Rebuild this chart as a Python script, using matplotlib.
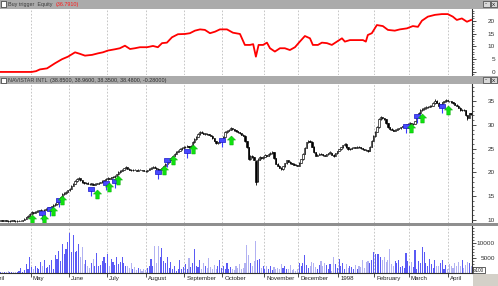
import matplotlib
matplotlib.use("Agg")
import matplotlib.pyplot as plt
import numpy as np
import pandas as pd
from matplotlib.patches import Rectangle
from matplotlib.path import Path
from matplotlib.transforms import blended_transform_factory
from matplotlib.ticker import FixedLocator, MultipleLocator

plt.rcParams['font.family'] = ['Liberation Sans', 'DejaVu Sans']

# ---------------- data ----------------
open_ = [9.8, 9.9, 9.8, 9.9, 9.8, 9.7, 9.8, 9.9, 9.8, 9.7,
         9.8, 9.8, 9.8, 10.0, 10.3, 10.6, 10.9, 11.3, 11.6, 11.5,
         11.7, 11.9, 12.0, 12.1, 12.0, 12.2, 12.4, 12.5, 12.7, 12.9,
         13.1, 13.3, 13.7, 14.2, 14.8, 15.5, 15.7, 15.9, 16.2, 16.6,
         17.2, 17.6, 18.1, 18.6, 18.8, 18.3, 17.9, 17.7, 17.8, 17.6,
         17.5, 17.6, 17.4, 17.6, 17.6, 17.8, 17.9, 18.2, 18.4,
         18.6, 18.8, 18.7, 19.0, 19.0, 19.3, 19.6, 20.0, 20.3, 20.6,
         20.9, 21.1, 20.8, 20.6, 20.4, 20.6, 20.5, 20.3, 20.6, 20.5,
         20.4, 20.3, 20.2, 20.5, 20.8, 21.0, 21.2, 21.0, 20.8, 20.6,
         20.7, 21.0, 21.4, 21.8, 22.1, 22.6, 23.1, 23.5, 23.9, 24.3,
         24.6, 24.9, 25.1, 25.3, 25.4, 25.5, 25.3, 25.6, 26.3, 27.0,
         27.5, 28.0, 28.4, 28.3, 28.1, 28.1, 28.0, 27.8, 27.7,
         27.2, 26.6, 26.1, 26.3, 26.5, 26.7, 27.5, 28.4, 28.8, 29.0,
         29.3, 29.1, 28.9, 28.6, 28.4, 28.2, 27.9, 27.7, 26.5, 25.3,
         22.8, 23.5, 23.2, 22.4, 18.2, 22.6, 23.2, 23.0, 23.3, 23.6,
         23.5, 23.8, 24.0, 24.2, 23.0, 21.8, 21.4, 21.0, 20.7, 21.3,
         21.9, 22.5, 22.2, 21.9, 21.8, 21.6, 21.5, 21.4, 22.0, 22.8,
         23.9, 25.2, 26.3, 26.7, 26.4, 25.4, 24.2, 23.5, 23.7, 23.9,
         23.8, 23.6, 23.5, 23.8, 24.0, 24.0, 23.7, 23.5, 24.0,
         24.5, 24.9, 25.3, 25.7, 26.0, 25.3, 24.9, 25.0, 25.2, 25.3,
         25.2, 25.4, 25.3, 25.1, 24.9, 24.8, 24.7, 24.6, 25.4, 26.7,
         27.6, 28.5, 29.5, 31.2, 31.6, 31.4, 31.2, 30.3, 29.5, 29.2,
         29.0, 28.8, 29.0, 29.2, 29.3, 29.6, 29.7, 29.8, 30.0,
         30.2, 30.3, 30.1, 30.2, 30.8, 31.6, 32.4, 33.1, 33.3, 33.5,
         33.7, 33.8, 33.9, 34.0, 34.5, 35.1, 34.6, 34.0, 34.3, 34.7,
         34.9, 35.2, 35.0, 34.9, 34.7, 34.5, 34.2, 34.0, 33.6, 33.1,
         33.2, 33.1, 32.0, 31.5, 32.4]
high = [10.0, 10.0, 10.0, 10.0, 9.9, 9.9, 10.0, 10.0, 9.9, 9.9,
        9.9, 9.9, 10.1, 10.4, 10.7, 11.0, 11.4, 11.8, 11.7, 11.8,
        12.0, 12.1, 12.3, 12.2, 12.3, 12.5, 12.7, 12.8, 13.0, 13.3,
        13.5, 13.9, 14.4, 15.0, 15.7, 15.9, 16.1, 16.4, 16.8, 17.4,
        17.8, 18.3, 18.8, 19.0, 18.9, 18.4, 18.0, 17.9, 17.9, 17.7,
        17.8, 17.7, 17.7, 17.7, 17.9, 18.0, 18.3, 18.5, 18.8,
        19.0, 18.9, 19.1, 19.2, 19.4, 19.7, 20.2, 20.4, 20.8, 21.0,
        21.3, 21.2, 20.9, 20.7, 20.7, 20.7, 20.6, 20.7, 20.7, 20.6,
        20.5, 20.4, 20.6, 20.9, 21.1, 21.4, 21.3, 21.1, 20.9, 20.8,
        21.1, 21.5, 22.0, 22.3, 22.8, 23.3, 23.7, 24.1, 24.5, 24.8,
        25.1, 25.3, 25.5, 25.6, 25.7, 25.6, 25.8, 26.5, 27.2, 27.7,
        28.2, 28.6, 28.6, 28.4, 28.3, 28.2, 28.1, 27.9, 27.8,
        27.3, 26.7, 26.4, 26.6, 26.8, 27.6, 28.6, 29.0, 29.2, 29.5,
        29.4, 29.2, 29.0, 28.7, 28.5, 28.3, 28.0, 27.8, 26.6, 25.4,
        23.7, 23.6, 23.3, 22.6, 23.0, 23.4, 23.3, 23.5, 23.8, 23.7,
        24.0, 24.2, 24.4, 24.3, 23.1, 21.9, 21.5, 21.1, 21.4, 22.0,
        22.7, 22.6, 22.3, 22.0, 21.9, 21.7, 21.6, 22.1, 22.9, 24.0,
        25.3, 26.4, 26.9, 26.8, 26.5, 25.5, 24.3, 23.8, 24.0, 24.0,
        23.9, 23.7, 23.9, 24.1, 24.4, 24.1, 23.8, 24.1, 24.6,
        25.0, 25.4, 25.8, 26.2, 26.1, 25.4, 25.1, 25.3, 25.4, 25.4,
        25.5, 25.5, 25.4, 25.2, 25.0, 24.9, 24.8, 25.5, 26.8, 27.8,
        28.7, 29.7, 31.4, 31.9, 31.7, 31.5, 31.3, 30.4, 29.6, 29.3,
        29.1, 29.1, 29.3, 29.4, 29.6, 29.8, 30.0, 30.2, 30.4,
        30.6, 30.4, 30.4, 30.9, 31.8, 32.6, 33.3, 33.5, 33.7, 33.9,
        34.0, 34.1, 34.2, 34.7, 35.4, 35.2, 34.7, 34.4, 34.8, 35.0,
        35.4, 35.3, 35.1, 35.0, 34.8, 34.6, 34.3, 34.1, 33.7, 33.3,
        33.3, 33.2, 32.1, 32.5, 32.5]
low = [9.7, 9.7, 9.7, 9.7, 9.6, 9.6, 9.7, 9.7, 9.6, 9.6,
       9.7, 9.7, 9.7, 9.9, 10.2, 10.5, 10.8, 11.2, 11.3, 11.4,
       11.6, 11.8, 11.9, 11.8, 11.9, 12.1, 12.3, 12.4, 12.6, 12.8,
       13.0, 13.2, 13.6, 14.1, 14.7, 15.3, 15.5, 15.8, 16.1, 16.5,
       17.1, 17.5, 18.0, 18.5, 18.2, 17.8, 17.6, 17.6, 17.5, 17.4,
       17.4, 17.3, 17.3, 17.5, 17.5, 17.7, 17.8, 18.1, 18.3,
       18.5, 18.6, 18.6, 18.9, 18.9, 19.2, 19.5, 19.9, 20.2, 20.5,
       20.8, 20.7, 20.5, 20.3, 20.3, 20.4, 20.2, 20.2, 20.4, 20.3,
       20.2, 20.1, 20.1, 20.4, 20.7, 20.9, 20.9, 20.7, 20.5, 20.5,
       20.6, 20.9, 21.3, 21.7, 22.0, 22.5, 23.0, 23.4, 23.8, 24.2,
       24.5, 24.8, 25.0, 25.2, 25.3, 25.2, 25.2, 25.5, 26.2, 26.9,
       27.4, 27.9, 28.2, 28.0, 27.9, 27.9, 27.8, 27.6, 27.1,
       26.5, 26.0, 26.0, 26.2, 26.4, 26.6, 27.4, 28.3, 28.7, 28.9,
       29.0, 28.8, 28.5, 28.3, 28.1, 27.8, 27.6, 26.4, 25.1, 22.5,
       22.6, 23.1, 22.5, 17.4, 18.0, 22.5, 22.9, 22.9, 23.2, 23.4,
       23.4, 23.7, 23.9, 22.9, 21.7, 21.3, 20.9, 20.5, 20.6, 21.2,
       21.8, 22.1, 21.8, 21.7, 21.5, 21.4, 21.3, 21.3, 21.9, 22.7,
       23.8, 25.1, 26.2, 26.3, 25.3, 24.1, 23.4, 23.4, 23.6, 23.7,
       23.5, 23.4, 23.4, 23.7, 23.9, 23.6, 23.3, 23.4, 23.9,
       24.4, 24.8, 25.2, 25.6, 25.2, 24.7, 24.8, 24.9, 25.1, 25.1,
       25.1, 25.2, 25.0, 24.8, 24.7, 24.6, 24.3, 24.5, 25.3, 26.6,
       27.5, 28.4, 29.4, 31.0, 31.2, 31.1, 30.2, 29.4, 29.0, 28.9,
       28.6, 28.7, 28.9, 29.1, 29.2, 29.5, 29.6, 29.7, 29.4,
       30.0, 29.9, 29.9, 30.1, 30.7, 31.5, 32.3, 33.0, 33.2, 33.4,
       33.6, 33.7, 33.8, 33.9, 34.4, 34.5, 33.8, 33.9, 34.2, 34.6,
       34.8, 34.9, 34.8, 34.6, 34.4, 34.1, 33.9, 33.5, 33.0, 33.0,
       33.0, 31.9, 31.0, 31.4, 32.1]
close = [9.9, 9.8, 9.9, 9.8, 9.7, 9.8, 9.9, 9.8, 9.7, 9.8,
         9.8, 9.8, 10.0, 10.3, 10.6, 10.9, 11.3, 11.6, 11.5, 11.7,
         11.9, 12.0, 12.1, 12.0, 12.2, 12.4, 12.5, 12.7, 12.9, 13.1,
         13.3, 13.7, 14.2, 14.8, 15.5, 15.7, 15.9, 16.2, 16.6, 17.2,
         17.6, 18.1, 18.6, 18.8, 18.3, 17.9, 17.7, 17.8, 17.6, 17.5,
         17.7, 17.4, 17.6, 17.6, 17.8, 17.9, 18.2, 18.4, 18.6,
         18.8, 18.7, 19.0, 19.0, 19.3, 19.6, 20.0, 20.3, 20.6, 20.9,
         21.1, 20.8, 20.6, 20.4, 20.6, 20.5, 20.3, 20.6, 20.5, 20.4,
         20.3, 20.2, 20.5, 20.8, 21.0, 21.2, 21.0, 20.8, 20.6, 20.7,
         21.0, 21.4, 21.8, 22.1, 22.6, 23.1, 23.5, 23.9, 24.3, 24.6,
         24.9, 25.1, 25.3, 25.4, 25.5, 25.3, 25.6, 26.3, 27.0, 27.5,
         28.0, 28.4, 28.3, 28.1, 28.1, 28.0, 27.9, 27.7, 27.2,
         26.6, 26.1, 26.3, 26.5, 26.7, 27.5, 28.4, 28.8, 29.0, 29.3,
         29.1, 28.9, 28.6, 28.4, 28.2, 27.9, 27.7, 26.5, 25.3, 22.8,
         23.5, 23.2, 22.6, 17.9, 22.6, 23.2, 23.0, 23.3, 23.6, 23.5,
         23.8, 24.0, 24.2, 23.0, 21.8, 21.4, 21.0, 20.7, 21.3, 21.9,
         22.5, 22.2, 21.9, 21.8, 21.6, 21.5, 21.4, 22.0, 22.8, 23.9,
         25.2, 26.3, 26.7, 26.4, 25.4, 24.2, 23.5, 23.7, 23.9, 23.8,
         23.6, 23.5, 23.8, 24.0, 24.2, 23.7, 23.5, 24.0, 24.5,
         24.9, 25.3, 25.7, 26.0, 25.3, 24.9, 25.0, 25.2, 25.3, 25.2,
         25.4, 25.3, 25.1, 24.9, 24.8, 24.7, 24.6, 25.4, 26.7, 27.6,
         28.5, 29.5, 31.2, 31.6, 31.4, 31.2, 30.3, 29.5, 29.2, 29.0,
         28.8, 29.0, 29.2, 29.3, 29.5, 29.7, 29.8, 30.0, 30.2,
         30.3, 30.1, 30.2, 30.8, 31.6, 32.4, 33.1, 33.3, 33.5, 33.7,
         33.8, 33.9, 34.0, 34.5, 35.1, 34.6, 34.0, 34.3, 34.7, 34.9,
         35.2, 35.0, 34.9, 34.7, 34.5, 34.2, 34.0, 33.6, 33.1, 33.2,
         33.1, 32.0, 31.5, 32.4, 32.3]
volume = [300, 500, 400, 300, 600, 400, 300, 500, 400, 300,
          600, 1800, 500, 900, 2900, 1200, 5300, 2000, 1500, 2400,
          1800, 1200, 3800, 2500, 4400, 1600, 2000, 2800, 4200, 1500,
          6000, 4800, 7200, 4000, 9800, 6500, 8000, 10500, 13500, 7000,
          12800, 7000, 7200, 9800, 5200, 8800, 3000, 4500, 2200, 1800,
          3500, 4800, 2200, 6800, 2500, 2800, 4000, 5200, 3300,
          6400, 2500, 4800, 3800, 2600, 5200, 3000, 3800, 5300, 3500,
          2400, 2200, 1800, 3200, 1500, 2000, 1000, 1800, 1500, 800,
          1200, 1000, 1800, 2400, 4800, 2500, 9000, 3500, 9000, 5200,
          8500, 4000, 3200, 5500, 1800, 3600, 1200, 2500, 800, 1500,
          4500, 1500, 2000, 3000, 1200, 5000, 2000, 3200, 8000, 2500,
          2000, 4500, 1500, 3500, 2200, 1800, 5000, 2000, 1500,
          2800, 1200, 2200, 4300, 1800, 2500, 1500, 3200, 1200, 2000,
          1500, 1000, 2200, 1800, 3000, 1200, 1800, 3500, 9500, 6000,
          3500, 2500, 4000, 10800, 4500, 4600, 1800, 2500, 1500, 2200,
          1200, 2500, 1000, 2000, 1500, 1800, 1200, 3000, 1800, 2200,
          1500, 1200, 2800, 1000, 1500, 800, 1200, 3500, 2500, 3200,
          6000, 2800, 1800, 2200, 3800, 3500, 2000, 1500, 2800, 4000,
          2500, 3300, 2800, 1500, 3000, 800, 5500, 3000, 1800,
          4800, 2500, 3500, 1500, 3000, 1800, 2500, 2000, 1200, 2800,
          1500, 2500, 2000, 4200, 1800, 3800, 4000, 3500, 4500, 7000,
          6500, 6200, 6500, 5200, 4500, 5200, 3800, 4500, 8000, 3000,
          2500, 4000, 3200, 4500, 2000, 2500, 1800, 6800, 4000,
          2500, 3800, 2000, 7800, 1500, 4000, 3200, 8800, 7000, 3500,
          2500, 4800, 3000, 1800, 4300, 2500, 2200, 3500, 4200, 1500,
          2800, 1500, 3000, 2200, 1800, 3500, 2500, 3800, 2500, 4500,
          1800, 2800, 3800, 3200, 2500]

# equity line (bar position, value)
eq_bar = [0, 17, 19.4, 21.6, 25.5, 29.9, 33.8, 37.1, 41, 43.7, 46.5, 50.4, 53.7, 56.4,
          59.2, 63.1, 65.8, 68.6, 71.4, 74.1, 76.9, 80.8, 84.1, 86.8, 89.1, 91.8,
          94.6, 97.9, 101.8, 104.5, 107.3, 110.1, 112.8, 115.6, 118.4, 121.1, 125,
          128.3, 132.2, 134.9, 137.7, 139.5, 141, 142.5, 145, 147.1, 148.8, 151.5,
          154.3, 157, 159.8, 162.6, 165.3, 168.1, 170.9, 172.5, 175.3, 177.5, 180.3,
          183, 185.8, 188.6, 190.2, 193, 196.8, 200.2, 201.8, 202.9, 205.1, 207.9,
          211.2, 214, 217.8, 220.6, 224.5, 227.8, 230.6, 232.8, 236.1, 240, 243.8,
          247.1, 249.9, 252.1, 254.9, 257.7, 260]
eq_val = [0.0, 0.0, 0.3, 1.0, 1.4, 3.4, 5.0, 6.0, 7.7, 7.1, 6.4, 6.7, 7.3, 7.7,
          8.4, 8.9, 9.3, 10.3, 9.0, 9.3, 9.7, 9.7, 10.2, 9.7, 11.3, 11.5,
          13.6, 14.8, 14.9, 15.2, 16.2, 16.7, 16.5, 15.2, 15.8, 16.7, 16.7,
          15.4, 14.9, 10.6, 10.6, 10.9, 6.0, 10.6, 10.6, 11.5, 9.3, 8.0,
          9.3, 9.3, 8.6, 9.7, 11.9, 14.1, 13.2, 10.6, 10.6, 11.5, 11.3,
          10.6, 11.9, 13.2, 11.9, 12.5, 12.5, 12.5, 11.9, 14.5, 15.2, 18.4,
          18.0, 16.5, 16.2, 16.7, 17.1, 18.0, 17.7, 20.1, 21.7, 22.4, 22.7,
          22.7, 21.7, 20.4, 21.0, 19.7, 20.4]

# buy signals
arrow_bar = [17, 24, 29, 34, 53, 60, 65, 90, 95, 106, 127, 227, 233, 247]
arrow_val = [10.2, 10.3, 11.9, 14.1, 15.5, 17.0, 18.4, 20.4, 22.5, 24.9, 26.9, 29.4, 31.5, 33.2]
box_bar = [23, 27, 32, 50, 58, 63, 87, 92, 103, 122, 224, 230, 244]
box_val = [11.4, 12.3, 14.2, 16.5, 17.8, 18.2, 20.1, 22.6, 24.5, 26.8, 29.7, 31.8, 33.9]

holidays = ['1997-05-26', '1997-07-04', '1997-09-01', '1997-11-27', '1997-12-25',
            '1998-01-01', '1998-01-19', '1998-02-16', '1998-04-10']
month_labels = ['April', 'May', 'June', 'July', 'August', 'September', 'October',
                'November', 'December', '1998', 'February', 'March', 'April']

eq_ticks = [0, 5, 10, 15, 20]
pr_ticks = [10, 15, 20, 25, 30, 35]
vol_ticks = [5000, 10000]

# ---------------- figure ----------------
W, H = 498, 286
fig = plt.figure(figsize=(W / 100, H / 100), dpi=100)
fig.patch.set_facecolor('white')

def fx(px):
    return px / W

def fy(py):
    return 1 - py / H

n = len(close)
x = np.arange(n)
bd = pd.bdate_range('1997-04-08', periods=300)
bd = bd[~bd.isin(pd.to_datetime(holidays))][:n]
mstart = [i for i in range(1, n) if bd[i].month != bd[i - 1].month]

ax_eq = fig.add_axes([0, fy(75), fx(472), (75 - 9) / H])
ax_pr = fig.add_axes([0, fy(223), fx(472), (223 - 84) / H])
ax_vol = fig.add_axes([0, fy(273), fx(472), (273 - 226) / H])

axis_col = '#303030'
for ax in (ax_eq, ax_pr, ax_vol):
    ax.set_facecolor('white')
    ax.set_xlim(-0.5, n - 0.5)
    for s in ('left', 'top', 'bottom'):
        ax.spines[s].set_visible(False)
    ax.spines['right'].set_color(axis_col)
    ax.spines['right'].set_linewidth(0.8)
    ax.yaxis.tick_right()
    for m in mstart:
        ax.axvline(m - 0.5, color='#bdbdbd', lw=0.6, ls=(0, (2, 2)), zorder=0)

# equity
ax_eq.plot(eq_bar, eq_val, color='#ff0000', lw=1.3, zorder=3)
ax_eq.set_ylim(-1.2, 24.7)

# price candles
o = np.array(open_); c = np.array(close); hi = np.array(high); lo = np.array(low)
up = c >= o
ax_pr.vlines(x, lo, hi, color='black', lw=0.6, zorder=2)
body_b = np.minimum(o, c)
body_h = np.maximum(np.abs(c - o), 0.08)
ax_pr.bar(x, body_h, bottom=body_b, width=0.72,
          color=np.where(up, 'white', 'black'), edgecolor='black', linewidth=0.45, zorder=3)
ax_pr.set_ylim(9.37, 38.57)

# signals
box_marker = Path([(-1, -0.6), (1, -0.6), (1, 0.6), (-1, 0.6), (-1, -0.6)],
                  [Path.MOVETO, Path.LINETO, Path.LINETO, Path.LINETO, Path.CLOSEPOLY])
arrow_marker = Path([(0, 1), (0.9, 0.1), (0.38, 0.1), (0.38, -1), (-0.38, -1),
                     (-0.38, 0.1), (-0.9, 0.1), (0, 1)])
bv = np.array(box_val)
ax_pr.vlines(box_bar, bv - 1.5, bv, color='#3a3aff', lw=0.8, zorder=4)
ax_pr.plot(box_bar, box_val, ls='none', marker=box_marker, ms=5, mfc='#4848ff',
           mec='#1818c8', mew=0.5, zorder=5)
ax_pr.plot(arrow_bar, arrow_val, ls='none', marker=arrow_marker, ms=6.5, mfc='#10e010',
           mec='#00a800', mew=0.3, zorder=6)

# volume
v = np.array(volume)
ax_vol.bar(x, v, width=0.6, color=np.where(up, '#5a5af5', '#b2b2f2'), linewidth=0, zorder=2)
ax_vol.set_ylim(0, 15700)
ax_vol.spines['bottom'].set_visible(True)
ax_vol.spines['bottom'].set_color(axis_col)
ax_vol.spines['bottom'].set_linewidth(0.8)

# y ticks
for ax, ticks, minor in ((ax_eq, eq_ticks, 1), (ax_pr, pr_ticks, 1), (ax_vol, vol_ticks, 1000)):
    ax.yaxis.set_major_locator(FixedLocator(ticks))
    ax.yaxis.set_minor_locator(MultipleLocator(minor))
    ax.set_yticklabels([str(t) for t in ticks])
    ax.tick_params(axis='y', which='major', length=3, width=0.6, direction='out',
                   colors=axis_col, labelsize=4.6, pad=13.6)
    ax.tick_params(axis='y', which='minor', length=1.5, width=0.5, direction='out', colors=axis_col)
    plt.setp(ax.get_yticklabels(), ha='right')
    ax.tick_params(axis='x', which='both', length=0, labelbottom=False)

# x ticks on volume axis
ax_vol.set_xticks([m - 0.5 for m in mstart])
ax_vol.tick_params(axis='x', which='major', length=3, width=0.6, direction='out',
                   colors=axis_col, labelbottom=False)
trans = blended_transform_factory(ax_vol.transData, ax_vol.transAxes)
first_idx = -(bd[0] - pd.Timestamp('1997-04-01')).days * 5 / 7
label_pos = [first_idx] + mstart
for pos, lab in zip(label_pos, month_labels):
    ax_vol.text(pos + 0.6, -0.07, lab, transform=trans, fontsize=4.4, color='#202020',
                ha='left', va='top', clip_on=False)

# ---------------- window chrome ----------------
def rect(px0, py0, px1, py1, **kw):
    fig.patches.append(Rectangle((fx(px0), fy(py1)), fx(px1 - px0), (py1 - py0) / H,
                                 transform=fig.transFigure, figure=fig, **kw))

hdr = '#ababab'
rect(0, 0, 498, 8.5, facecolor=hdr, edgecolor='none', zorder=10)
rect(0, 76, 498, 84, facecolor=hdr, edgecolor='none', zorder=10)
rect(0, 223, 498, 226, facecolor='#8f8f8f', edgecolor='none', zorder=10)
rect(472.5, 273.5, 498, 286, facecolor='#d4d0c8', edgecolor='none', zorder=10)
for yy in (1.5, 77.5):
    rect(1, yy, 6, yy + 5, facecolor='white', edgecolor='#303030', lw=0.5, zorder=11)
    rect(483, yy - 0.5, 489.5, yy + 5.5, facecolor='#d8d8d8', edgecolor='#404040', lw=0.5, zorder=11)
    rect(490.5, yy - 0.5, 497, yy + 5.5, facecolor='#d8d8d8', edgecolor='#404040', lw=0.5, zorder=11)
    fig.text(fx(486.2), fy(yy + 2.5), '-', fontsize=4.5, ha='center', va='center', color='#202020', zorder=12)
    fig.text(fx(493.8), fy(yy + 2.5), 'x', fontsize=4.5, ha='center', va='center', color='#202020', zorder=12)

hfs = 3.9
t1 = fig.text(fx(8), fy(4.4), 'Buy trigger  Equity', fontsize=hfs, color='#3c3c3c', va='center', zorder=12)
fig.texts.append(matplotlib.text.Annotation('(36.7910)', xy=(1, 0.5), xycoords=t1,
                 xytext=(2, 0), textcoords='offset points', fontsize=hfs, color='#ff1a1a',
                 va='center', ha='left', zorder=12))
t2 = fig.text(fx(8), fy(80.2), 'NAVISTAR INTL', fontsize=hfs, color='#3c3c3c', va='center', zorder=12)
fig.texts.append(matplotlib.text.Annotation('(38.8500, 38.9600, 38.3500, 38.4800, -0.28000)',
                 xy=(1, 0.5), xycoords=t2, xytext=(2, 0), textcoords='offset points',
                 fontsize=hfs, color='#2c2c2c', va='center', ha='left', zorder=12))
for t in fig.texts[-3:]:
    t.set_figure(fig)
fig.texts[-1].set_transform(fig.transFigure)
fig.texts[-3].set_transform(fig.transFigure)

rect(473, 267, 485, 273, facecolor='white', edgecolor='#202020', lw=0.5, zorder=11)
fig.text(fx(479), fy(270), 'x100', fontsize=3.4, ha='center', va='center', color='#202020', zorder=12)

fig.savefig('out.png', dpi=100)
